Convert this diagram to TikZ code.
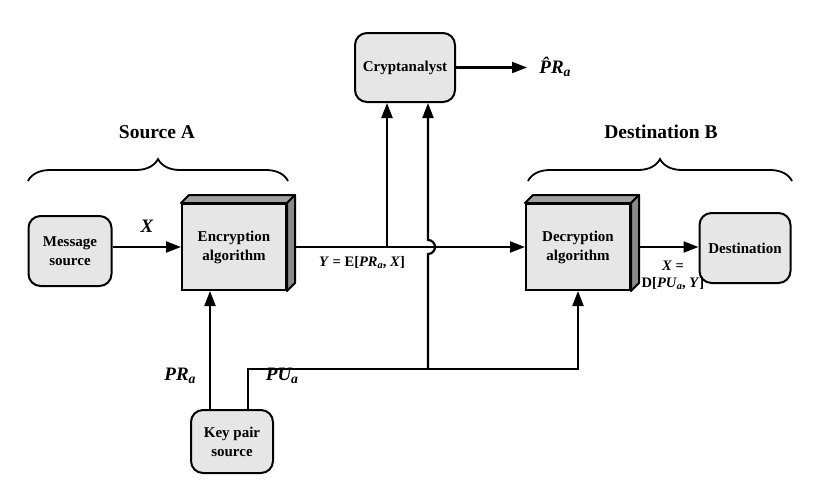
\documentclass[tikz,border=0pt]{standalone}
\usepackage{fontspec}
\setmainfont{Liberation Serif}
\usetikzlibrary{arrows.meta,decorations.pathreplacing}
\definecolor{boxgray}{HTML}{E6E6E6}
\definecolor{topgray}{HTML}{A0A0A0}
\definecolor{sidegray}{HTML}{8A8A8A}
\newcommand\low[1]{\raisebox{-0.3ex}{\scalebox{0.72}{#1}}}
\begin{document}
\begin{tikzpicture}[x=1pt,y=-1pt,line width=2.2pt,
  boxfont/.style={font=\fontsize{15}{19}\selectfont\bfseries},
  rbox/.style={draw, line width=2pt, rounded corners=12pt, fill=boxgray, align=center, boxfont, inner sep=0pt},
  cube/.style={draw, line width=2pt, fill=boxgray, align=center, boxfont, inner sep=0pt, minimum width=104pt, minimum height=86pt},
  arr/.style={-{Triangle[length=15pt,width=11pt]}},
  lbl/.style={font=\fontsize{19}{22}\selectfont\bfseries\itshape},
  ttl/.style={font=\fontsize{19.5}{22}\selectfont\bfseries},
  small/.style={font=\fontsize{14.5}{17}\selectfont\bfseries, align=center, inner sep=0pt},
  brc/.style={decorate, decoration={brace, amplitude=22pt}, line width=1.8pt}
]
\useasboundingbox (0,0) rectangle (823,485);

% nodes
\node[rbox, minimum width=83pt, minimum height=70pt] (msg) at (70,251) {Message\\source};
\node[cube] (enc) at (234,247) {Encryption\\algorithm};
\node[cube] (dec) at (578,247) {Decryption\\algorithm};
\node[rbox, minimum width=91pt, minimum height=70pt] (dest) at (745,248) {Destination};
\node[rbox, minimum width=100pt, minimum height=69pt] (cry) at (405,67.5) {Cryptanalyst};
\node[rbox, minimum width=82pt, minimum height=63pt] (key) at (232,441.5) {Key pair\\source};

% 3D faces
\foreach \n in {enc,dec}{
  \draw[line width=2pt, fill=topgray, line join=round] (\n.north west) -- ++(8,-8) -- ([shift={(8,-8)}]\n.north east) -- (\n.north east) -- cycle;
  \draw[line width=2pt, fill=sidegray, line join=round] (\n.north east) -- ++(8,-8) -- ([shift={(8,-8)}]\n.south east) -- (\n.south east) -- cycle;
}

% titles and braces
\node[ttl] (srcA) at (157,132) {Source A};
\node[ttl] (dstB) at (661,132) {Destination B};
\coordinate (ba1) at (28,181);
\coordinate (ba2) at (288,181);
\coordinate (bb1) at (528,181);
\coordinate (bb2) at (792,181);
\draw[brc] (ba1) -- (ba2);
\draw[brc] (bb1) -- (bb2);

% connectors
\draw[arr] (msg.east |- enc) -- (enc.west);
\coordinate (encout) at ([xshift=8pt]enc.east);
\coordinate (decout) at ([xshift=8pt]dec.east);
\draw[arr] (encout) -- (dec.west);
\draw[arr] (decout) -- (dest.west |- dec);

\coordinate (b1) at (387,247);
\draw[arr] (b1) -- (b1 |- cry.south);
\draw[arr] (cry.east) -- (527,67.5) coordinate (prend);

\coordinate (kp1) at ([xshift=-22pt]key.north);
\coordinate (kp2) at ([xshift=16pt]key.north);
\coordinate (kpc) at (248,369);
\coordinate (j1) at (428,369);
\coordinate (hop) at (428,254);
\draw[arr] (kp1) -- (kp1 |- enc.south);
\draw[arr] (kp2) -- (kpc) -- (dec.south |- kpc) -- (dec.south);
\draw[arr] (j1) -- (hop) arc[start angle=90, end angle=-90, radius=7] -- (j1 |- cry.south);

% labels
\node[lbl] (xl) at (147,226) {X};
\node[lbl] (pra) at (180,376) {PR\low{a}};
\node[lbl] (pua) at (282,376) {PU\low{a}};
\node[lbl, anchor=west] (prh) at (535,67) {\^{P}R\low{a}};
\node[small] (yl) at (362,263) {\textit{Y} = E[\textit{PR}\low{\textit{a}}, \textit{X}]};
\node[small] (xd) at (673,275) {\textit{X} =\\D[\textit{PU}\low{\textit{a}}, \textit{Y}]};
\end{tikzpicture}
\end{document}
